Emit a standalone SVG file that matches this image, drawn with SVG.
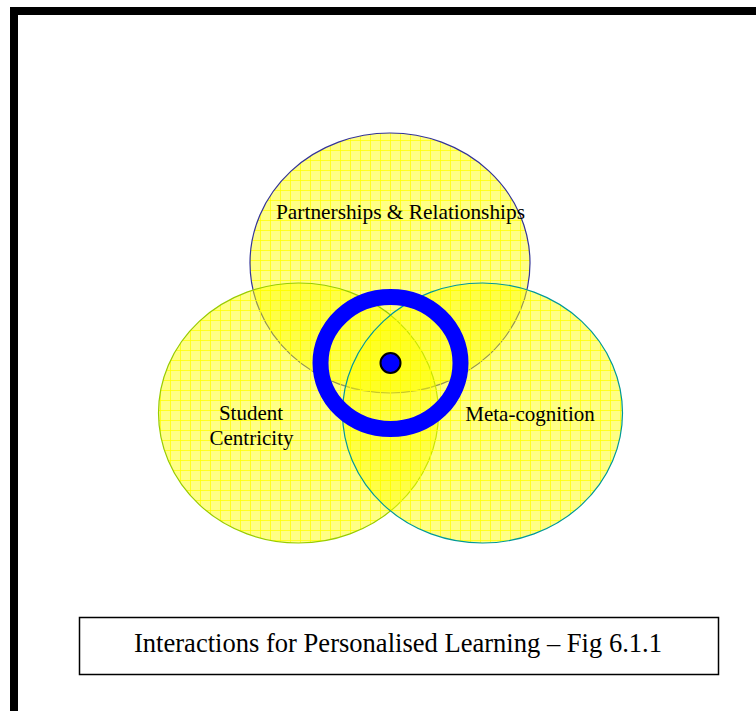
<svg xmlns="http://www.w3.org/2000/svg" width="756" height="711" viewBox="0 0 756 711">
<defs>
<pattern id="grid" width="10" height="10" patternUnits="userSpaceOnUse">
<rect width="10" height="10" fill="#ffff00" fill-opacity="0.48"/>
<path d="M0 0.5H10M0.5 0V10" stroke="#ffff00" stroke-width="1" stroke-opacity="0.75" fill="none"/>
</pattern>
<style>
.lbl{font-family:"Liberation Serif","Times New Roman",serif;fill:#000;font-size:21px;text-anchor:middle}
.cap{font-family:"Liberation Serif","Times New Roman",serif;fill:#000;font-size:27px;text-anchor:middle}
.set{fill:url(#grid)}
</style>
</defs>
<rect width="756" height="711" fill="#fff"/>
<path d="M14 711V11H756" fill="none" stroke="#000" stroke-width="8"/>
<g id="partnerships">
<ellipse class="set" cx="390" cy="263" rx="140" ry="130" stroke="#333399" stroke-width="1.2"/>
</g>
<g id="student">
<ellipse class="set" cx="298.5" cy="413" rx="140" ry="130" stroke="#99cc00" stroke-width="1.2"/>
</g>
<g id="meta">
<ellipse class="set" cx="482.5" cy="413" rx="140" ry="130" stroke="#009999" stroke-width="1.2"/>
</g>
<g id="labels">
<text class="lbl" x="400.5" y="219" textLength="249" lengthAdjust="spacingAndGlyphs">Partnerships &amp; Relationships</text>
<text class="lbl" x="251" y="420">Student</text>
<text class="lbl" x="251.5" y="445">Centricity</text>
<text class="lbl" x="530" y="421">Meta-cognition</text>
</g>
<g id="centre">
<ellipse cx="390.5" cy="363" rx="70" ry="66" fill="none" stroke="#0000ff" stroke-width="16"/>
<circle cx="390.5" cy="363" r="10" fill="#0000ff" stroke="#000" stroke-width="2"/>
</g>
<g id="caption">
<rect x="79.5" y="617.5" width="639" height="57" fill="#fff" stroke="#000" stroke-width="1.5"/>
<text class="cap" x="398" y="652" textLength="528" lengthAdjust="spacingAndGlyphs">Interactions for Personalised Learning – Fig 6.1.1</text>
</g>
<g id="connectors"/>
</svg>
